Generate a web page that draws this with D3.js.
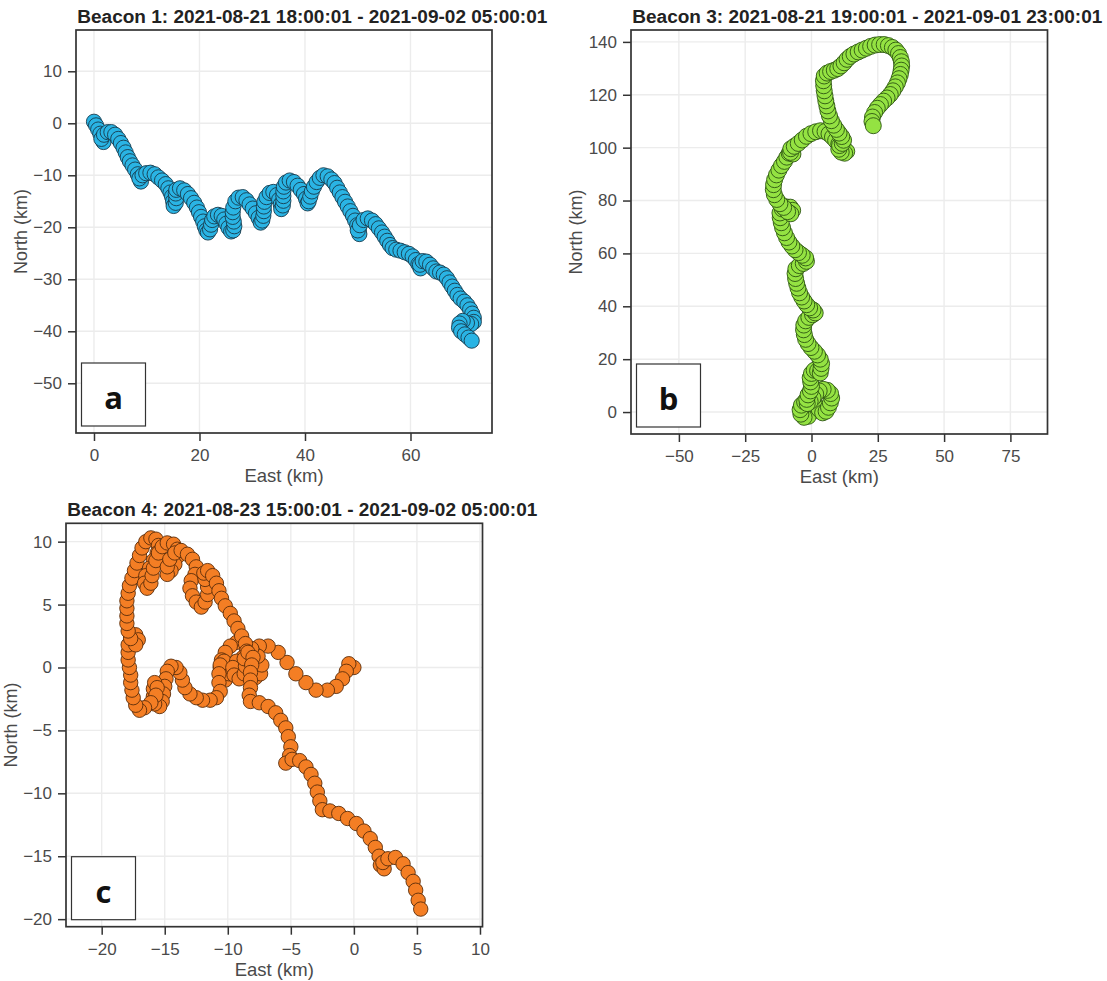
<!DOCTYPE html>
<html>
<head>
<meta charset="utf-8">
<script src="https://cdnjs.cloudflare.com/ajax/libs/d3/7.8.5/d3.min.js"></script>
<style>
  body { margin: 0; background: #fff; }
  svg { display: block; }
  text { font-family: "Liberation Sans", Arial, sans-serif; }
</style>
</head>
<body>
<svg width="1107" height="981"></svg>
<script>
// positions of each beacon, [East km, North km], hourly fixes
const beacon1Track = [
  [0,0.3],[0.4,-0.4],[0.8,-1.2],[1.2,-2.0],[1.6,-2.8],[1.8,-3.6],[1.4,-3.0],[1.9,-2.2],[2.6,-1.7],[3.3,-1.7],
  [4.0,-2.2],[4.6,-3.0],[5.1,-3.8],[5.6,-4.7],[6.0,-5.6],[6.4,-6.5],[6.8,-7.3],[7.3,-8.1],[7.8,-8.9],[8.3,-9.8],
  [8.7,-10.6],[8.9,-11.2],[8.6,-10.6],[9.2,-10.0],[9.9,-9.6],[10.7,-9.5],[11.5,-9.8],[12.2,-10.4],[12.9,-11.0],[13.6,-11.7],
  [14.1,-12.5],[14.5,-13.3],[14.8,-14.1],[15.0,-15.0],[15.1,-15.9],[15.5,-15.3],[15.6,-14.4],[15.5,-13.5],[15.6,-12.8],[16.3,-12.5],
  [17.1,-12.9],[17.8,-13.6],[18.4,-14.4],[19.0,-15.3],[19.5,-16.2],[19.9,-17.1],[20.3,-18.0],[20.7,-18.9],[21.0,-19.8],[21.3,-20.6],
  [21.6,-21.0],[22.0,-20.4],[22.2,-19.5],[22.4,-18.6],[22.8,-17.9],[23.5,-17.6],[24.2,-17.8],[24.7,-18.5],[25.1,-19.3],[25.5,-20.1],
  [26.0,-20.8],[26.4,-20.6],[26.6,-19.8],[26.5,-18.9],[26.3,-18.0],[26.3,-17.1],[26.4,-16.2],[26.8,-15.0],[27.4,-14.3],[28.2,-14.2],
  [28.9,-14.8],[29.5,-15.6],[30.1,-16.4],[30.7,-17.3],[31.2,-18.2],[31.6,-19.1],[31.9,-18.7],[32.1,-17.8],[32.2,-16.9],[32.2,-16.0],
  [32.3,-15.1],[32.7,-14.2],[33.3,-13.4],[34.0,-13.2],[34.7,-13.8],[35.1,-14.7],[35.4,-15.6],[35.5,-16.5],[35.8,-15.8],[35.9,-14.9],
  [35.9,-14.0],[35.9,-13.1],[36.0,-12.2],[36.4,-11.4],[37.1,-11.0],[37.9,-11.3],[38.6,-12.0],[39.2,-12.8],[39.8,-13.6],[40.2,-14.5],
  [40.5,-15.4],[40.7,-15.0],[41.0,-14.1],[41.3,-13.1],[41.7,-12.2],[42.2,-11.3],[42.8,-10.5],[43.5,-10.0],[44.3,-10.2],[45.0,-10.8],
  [45.6,-11.5],[46.1,-12.4],[46.6,-13.3],[47.1,-14.2],[47.6,-15.1],[48.1,-16.0],[48.6,-16.9],[49.1,-17.8],[49.5,-18.7],[49.9,-19.6],
  [50.2,-20.5],[50.3,-21.3],[50.0,-20.6],[50.4,-19.6],[51.1,-18.6],[51.9,-18.3],[52.7,-18.7],[53.4,-19.4],[54.0,-20.2],[54.6,-21.0],
  [55.1,-21.8],[55.6,-22.6],[56.1,-23.4],[56.6,-24.0],[57.3,-24.3],[58.1,-24.5],[58.9,-24.8],[59.7,-25.1],[60.4,-25.6],[61.0,-26.3],
  [61.5,-27.1],[61.9,-27.9],[61.8,-27.2],[62.3,-26.5],[63.0,-26.6],[63.7,-27.2],[64.3,-27.9],[64.9,-28.5],[65.6,-28.7],[66.3,-29.1],
  [66.9,-29.8],[67.4,-30.6],[67.9,-31.4],[68.4,-32.2],[68.9,-33.0],[69.5,-33.7],[70.2,-34.3],[70.8,-35.0],[71.3,-35.8],[71.7,-36.6],
  [72.0,-37.4],[72.0,-38.2],[71.5,-38.6],[70.7,-38.4],[69.9,-38.0],[69.3,-38.5],[69.2,-39.3],[69.6,-40.0],[70.3,-40.6],[71.0,-41.2],
  [71.6,-41.8]
];

const beacon3Track = [
  [0,0],[-1.2,-1.6],[-2.8,-2.0],[-4.0,-0.8],[-4.3,0.9],[-3.8,2.6],[-2.6,3.8],[-1.2,4.2],[0.3,3.6],[1.6,2.4],
  [2.9,1.0],[4.2,-0.3],[5.5,0.3],[6.4,1.8],[7.1,3.5],[7.6,5.3],[7.2,7.0],[6.0,8.2],[4.4,8.6],[2.9,8.0],
  [1.6,6.8],[0.6,5.3],[-0.5,4.0],[-1.6,3.2],[-1.8,4.8],[-1.3,6.5],[-0.4,8.0],[0.0,9.7],[-0.3,11.4],[-0.5,13.0],
  [0.0,14.6],[1.0,15.8],[2.3,15.6],[3.3,14.8],[3.6,16.5],[3.8,18.3],[3.3,20.0],[2.3,21.6],[1.1,23.0],[-0.2,24.4],
  [-1.3,25.9],[-2.2,27.5],[-2.7,29.3],[-3.0,31.1],[-2.9,32.9],[-2.2,34.5],[-1.0,35.8],[0.4,36.8],[1.4,37.5],[0.6,38.6],
  [-0.7,39.4],[-1.8,40.6],[-2.8,42.0],[-3.7,43.5],[-4.5,45.1],[-5.1,46.9],[-5.6,48.7],[-6.0,50.5],[-6.2,52.4],[-5.9,54.2],
  [-4.6,55.4],[-3.1,56.2],[-1.9,57.0],[-2.2,58.3],[-3.5,59.3],[-4.9,60.3],[-6.2,61.4],[-7.4,62.8],[-8.5,64.3],[-9.4,66.0],
  [-10.2,67.8],[-10.9,69.7],[-11.4,71.6],[-11.8,73.5],[-11.9,75.3],[-11.0,76.8],[-9.5,77.6],[-8.0,77.5],[-7.1,76.3],[-7.8,75.0],
  [-9.0,75.8],[-10.5,77.4],[-11.9,78.8],[-13.1,80.4],[-14.0,82.2],[-14.4,84.1],[-14.3,86.0],[-13.9,87.9],[-13.2,89.7],[-12.3,91.5],
  [-11.3,93.2],[-10.2,94.8],[-9.3,96.4],[-8.4,97.9],[-7.4,98.9],[-7.0,97.6],[-7.9,98.2],[-7.8,99.6],[-6.5,100.5],[-5.0,101.6],
  [-3.5,102.9],[-1.9,104.3],[-0.2,105.3],[1.6,106.0],[3.4,106.4],[5.1,106.1],[6.6,105.2],[7.9,104.0],[9.1,102.7],[10.3,101.4],
  [11.5,100.2],[12.6,99.2],[13.3,98.6],[12.5,97.9],[11.2,98.3],[10.3,99.4],[10.6,100.8],[11.6,101.6],[12.1,102.8],[11.4,104.2],
  [10.4,105.5],[9.4,106.9],[8.4,108.5],[7.5,110.2],[6.8,112.0],[6.2,113.9],[5.8,115.8],[5.4,117.7],[5.1,119.6],[4.8,121.5],
  [4.6,123.4],[4.5,125.3],[4.8,127.1],[5.9,128.2],[7.2,128.8],[8.6,129.3],[9.9,129.9],[11.1,130.9],[12.3,132.1],[13.4,133.4],
  [14.6,134.5],[16.0,135.4],[17.6,136.2],[19.1,136.9],[20.7,137.6],[22.3,138.3],[24.0,138.8],[25.7,139.0],[27.4,139.0],[29.0,138.6],
  [30.5,137.9],[31.8,136.9],[32.8,135.6],[33.5,134.1],[33.9,132.5],[34.0,130.9],[33.8,129.3],[33.5,127.7],[33.0,126.1],[32.4,124.5],
  [31.6,123.0],[30.7,121.5],[29.7,120.1],[28.5,118.8],[27.2,117.6],[26.0,116.3],[24.8,114.9],[23.8,113.3],[23.0,111.6],[22.8,109.9],
  [23.3,108.3]
];

const beacon4Track = [
  [0,0],[-0.4,0.3],[-0.6,-0.3],[-0.9,-0.9],[-1.4,-1.5],[-2.1,-1.8],[-3.0,-1.8],[-3.8,-1.2],[-4.6,-0.5],[-5.3,0.4],
  [-6.0,1.2],[-6.8,1.7],[-7.5,1.7],[-7.9,1.1],[-8.0,0.5],[-8.0,-0.2],[-7.8,-0.8],[-7.4,-0.5],[-7.3,0.2],[-7.6,0.9],
  [-8.1,1.5],[-8.7,1.9],[-9.3,2.0],[-9.8,1.7],[-10.2,1.2],[-10.5,0.6],[-10.6,0.0],[-10.5,-0.6],[-10.2,-1.0],[-9.9,-0.5],
  [-10.0,0.1],[-10.3,0.5],[-10.6,0.2],[-10.7,-0.5],[-10.7,-1.2],[-10.6,-1.9],[-10.9,-2.4],[-11.4,-2.6],[-12.0,-2.6],[-12.5,-2.4],
  [-13.0,-2.1],[-13.4,-1.6],[-13.6,-1.0],[-13.8,-0.4],[-14.1,0.0],[-14.5,0.1],[-14.8,-0.3],[-14.9,-0.9],[-15.0,-1.5],[-15.1,-2.1],
  [-15.2,-2.7],[-15.4,-3.1],[-15.8,-2.9],[-15.9,-2.3],[-15.9,-1.7],[-15.8,-1.2],[-15.6,-1.6],[-15.7,-2.2],[-16.1,-2.8],[-16.6,-3.2],
  [-17.0,-3.4],[-17.3,-3.0],[-17.5,-2.4],[-17.6,-1.8],[-17.7,-1.2],[-17.7,-0.6],[-17.8,0.0],[-17.9,0.6],[-17.9,1.2],[-17.9,1.8],
  [-17.7,2.4],[-17.3,2.6],[-17.1,2.2],[-17.3,1.8],[-17.7,2.3],[-17.9,2.9],[-18.0,3.5],[-18.0,4.1],[-18.0,4.7],[-18.0,5.3],
  [-17.9,5.9],[-17.8,6.5],[-17.6,7.1],[-17.4,7.7],[-17.2,8.3],[-17.0,8.9],[-16.8,9.5],[-16.5,10.0],[-16.1,10.3],[-15.7,10.2],
  [-15.5,9.7],[-15.6,9.1],[-15.9,8.5],[-16.2,7.9],[-16.5,7.3],[-16.6,6.7],[-16.4,6.3],[-16.1,6.7],[-16.0,7.3],[-15.9,7.9],
  [-15.7,8.5],[-15.5,9.1],[-15.2,9.6],[-14.8,9.9],[-14.3,9.8],[-14.0,9.4],[-14.0,8.8],[-14.2,8.2],[-14.5,7.7],[-14.8,7.4],
  [-14.8,8.0],[-14.6,8.6],[-14.2,9.1],[-13.7,9.3],[-13.2,9.0],[-12.8,8.6],[-12.5,8.0],[-12.6,7.4],[-12.9,6.9],[-13.0,6.3],
  [-12.8,5.7],[-12.5,5.2],[-12.1,4.8],[-11.8,5.2],[-11.6,5.8],[-11.6,6.4],[-11.8,7.0],[-11.9,7.5],[-11.6,7.7],[-11.2,7.3],
  [-10.9,6.7],[-10.7,6.1],[-10.5,5.5],[-10.2,4.9],[-9.8,4.3],[-9.5,3.7],[-9.2,3.1],[-8.9,2.5],[-8.6,1.9],[-8.5,1.3],
  [-8.8,0.8],[-9.3,0.5],[-9.6,0.0],[-9.5,-0.6],[-9.1,-0.9],[-8.7,-0.5],[-8.6,0.1],[-8.7,0.7],[-8.4,1.2],[-8.0,0.8],
  [-8.1,0.2],[-8.2,-0.4],[-8.2,-1.0],[-8.2,-1.6],[-8.3,-2.2],[-8.2,-2.7],[-7.5,-2.8],[-6.8,-3.1],[-6.2,-3.6],[-5.8,-4.2],
  [-5.4,-4.8],[-5.2,-5.5],[-5.0,-6.3],[-5.1,-7.0],[-5.4,-7.6],[-4.9,-7.3],[-4.3,-7.4],[-3.8,-7.9],[-3.4,-8.5],[-3.1,-9.2],
  [-2.9,-9.9],[-2.7,-10.6],[-2.5,-11.3],[-1.9,-11.4],[-1.2,-11.6],[-0.5,-12.0],[0.2,-12.4],[0.8,-13.0],[1.3,-13.6],[1.7,-14.3],
  [2.0,-15.0],[2.1,-15.7],[2.4,-16.0],[2.3,-15.5],[2.7,-15.2],[3.3,-15.1],[3.9,-15.6],[4.3,-16.3],[4.7,-17.0],[4.9,-17.7],
  [5.1,-18.5],[5.3,-19.2]
];

const panelTitles = [
  "Beacon 1: 2021-08-21 18:00:01 - 2021-09-02 05:00:01",
  "Beacon 3: 2021-08-21 19:00:01 - 2021-09-01 23:00:01",
  "Beacon 4: 2021-08-23 15:00:01 - 2021-09-02 05:00:01"
];
const panelLetters = ["a", "b", "c"];

const xTicks1 = [0, 20, 40, 60];
const yTicks1 = [10, 0, -10, -20, -30, -40, -50];
const xTicks3 = [-50, -25, 0, 25, 50, 75];
const yTicks3 = [0, 20, 40, 60, 80, 100, 120, 140];
const xTicks4 = [-20, -15, -10, -5, 0, 5, 10];
const yTicks4 = [-20, -15, -10, -5, 0, 5, 10];

// layout of the three panels (pixels) and their axis ranges
const panels = [
  { track: beacon1Track, title: panelTitles[0], letter: panelLetters[0],
    left: 76, top: 30, right: 492, bottom: 433,
    xDomain: [-3.41, 75.45], yDomain: [-59.56, 17.94], xTicks: xTicks1, yTicks: yTicks1,
    fill: "#2ab4e4", stroke: "#173a4c", r: 7.6 },
  { track: beacon3Track, title: panelTitles[1], letter: panelLetters[1],
    left: 631, top: 30, right: 1047.5, bottom: 434,
    xDomain: [-68.06, 88.99], yDomain: [-8.3, 144.5], xTicks: xTicks3, yTicks: yTicks3,
    fill: "#94e242", stroke: "#2c5512", r: 8 },
  { track: beacon4Track, title: panelTitles[2], letter: panelLetters[2],
    left: 66, top: 523.3, right: 482.5, bottom: 926.7,
    xDomain: [-22.83, 10.2], yDomain: [-20.6, 11.46], xTicks: xTicks4, yTicks: yTicks4,
    fill: "#f47e24", stroke: "#5a2c0a", r: 7.2 }
];

const svg = d3.select("svg");
const fmt = d3.format("d");

panels.forEach(p => {
  const x = d3.scaleLinear().domain(p.xDomain).range([p.left, p.right]);
  const y = d3.scaleLinear().domain(p.yDomain).range([p.bottom, p.top]);
  const g = svg.append("g");

  // faint grid
  g.selectAll(".vgrid").data(p.xTicks).enter().append("line")
    .attr("x1", d => x(d)).attr("x2", d => x(d))
    .attr("y1", p.top).attr("y2", p.bottom)
    .attr("stroke", "#ececec").attr("stroke-width", 1.4);
  g.selectAll(".hgrid").data(p.yTicks).enter().append("line")
    .attr("y1", d => y(d)).attr("y2", d => y(d))
    .attr("x1", p.left).attr("x2", p.right)
    .attr("stroke", "#ececec").attr("stroke-width", 1.4);

  // label box (under the points)
  g.append("rect")
    .attr("x", p.left + 5.5).attr("y", p.bottom - 70)
    .attr("width", 64).attr("height", 63)
    .attr("fill", "#fff").attr("stroke", "#333").attr("stroke-width", 1.2);
  g.append("text")
    .attr("x", p.left + 37.5).attr("y", p.bottom - 24)
    .attr("text-anchor", "middle")
    .style("font-family", "'Open Sans', sans-serif")
    .style("font-weight", "bold").style("font-size", "31px")
    .style("fill", "#111")
    .text(p.letter);

  // points
  g.selectAll("circle").data(p.track).enter().append("circle")
    .attr("cx", d => x(d[0])).attr("cy", d => y(d[1]))
    .attr("r", p.r)
    .attr("fill", p.fill).attr("stroke", p.stroke).attr("stroke-width", 0.9);

  // frame
  g.append("rect")
    .attr("x", p.left).attr("y", p.top)
    .attr("width", p.right - p.left).attr("height", p.bottom - p.top)
    .attr("fill", "none").attr("stroke", "#333").attr("stroke-width", 1.7);

  // axes
  const ax = g.append("g").attr("transform", `translate(0,${p.bottom})`)
    .call(d3.axisBottom(x).tickValues(p.xTicks).tickFormat(fmt).tickSize(8).tickPadding(8));
  const ay = g.append("g").attr("transform", `translate(${p.left},0)`)
    .call(d3.axisLeft(y).tickValues(p.yTicks).tickFormat(fmt).tickSize(8).tickPadding(6));
  [ax, ay].forEach(a => {
    a.select(".domain").remove();
    a.selectAll("line").attr("stroke", "#333").attr("stroke-width", 1.5);
    a.selectAll("text").style("font-size", "17px").style("fill", "#4a4a4a")
      .style("font-family", "'Liberation Sans', Arial, sans-serif");
  });

  // titles
  g.append("text")
    .attr("x", p.left + 1.3).attr("y", p.top - 7.3)
    .attr("textLength", 470).attr("lengthAdjust", "spacingAndGlyphs")
    .style("font-weight", "bold").style("font-size", "18px").style("fill", "#222")
    .text(p.title);
  g.append("text")
    .attr("x", (p.left + p.right) / 2).attr("y", p.bottom + 49)
    .attr("text-anchor", "middle")
    .style("font-size", "18.5px").style("fill", "#4a4a4a")
    .text("East (km)");
  g.append("text")
    .attr("transform", `translate(${p.left - 49.5},${(p.top + p.bottom) / 2}) rotate(-90)`)
    .attr("text-anchor", "middle")
    .style("font-size", "18px").style("fill", "#4a4a4a")
    .text("North (km)");
});
</script>
</body>
</html>
